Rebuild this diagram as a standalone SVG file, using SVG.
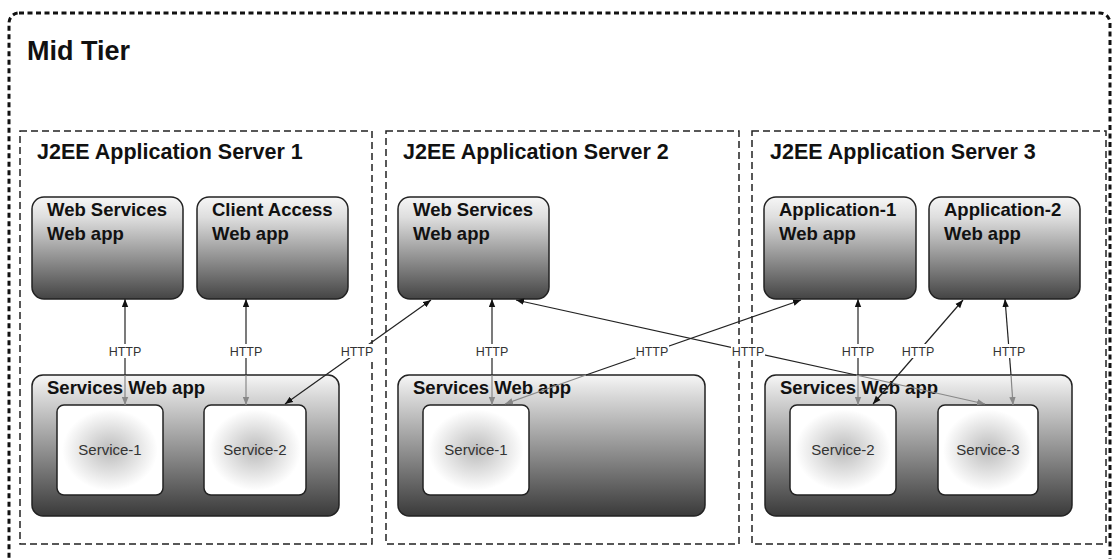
<svg xmlns="http://www.w3.org/2000/svg" width="1112" height="559" viewBox="0 0 1112 559">
<defs>
<linearGradient id="gWeb" x1="0" y1="0" x2="0" y2="1">
<stop offset="0" stop-color="#f6f6f6"/>
<stop offset="0.2" stop-color="#dedede"/>
<stop offset="1" stop-color="#444444"/>
</linearGradient>
<linearGradient id="gSvc" x1="0" y1="0" x2="0" y2="1">
<stop offset="0" stop-color="#f6f6f6"/>
<stop offset="0.15" stop-color="#d8d8d8"/>
<stop offset="1" stop-color="#3a3a3a"/>
</linearGradient>
<radialGradient id="gInner" cx="0.5" cy="0.5" r="0.6">
<stop offset="0" stop-color="#bcbcbc"/>
<stop offset="0.75" stop-color="#ffffff"/>
<stop offset="1" stop-color="#ffffff"/>
</radialGradient>
<marker id="aDark" viewBox="0 0 10 8" refX="10" refY="4" markerWidth="8" markerHeight="7" markerUnits="userSpaceOnUse" orient="auto-start-reverse">
<path d="M0,0 L10,4 L0,8 z" fill="#111"/>
</marker>
<marker id="aGray" viewBox="0 0 10 8" refX="10" refY="4" markerWidth="8" markerHeight="7" markerUnits="userSpaceOnUse" orient="auto-start-reverse">
<path d="M0,0 L10,4 L0,8 z" fill="#888"/>
</marker>
</defs>
<style>
.outer{fill:none;stroke:#111;stroke-width:3;stroke-dasharray:5 3.5}
.server{fill:none;stroke:#222;stroke-width:1.5;stroke-dasharray:7 4}
.title{font-family:"Liberation Sans",Arial,sans-serif;font-weight:bold;fill:#111}
.web{fill:url(#gWeb);stroke:#222;stroke-width:1.5}
.svc{fill:url(#gSvc);stroke:#222;stroke-width:1.5}
.inner{fill:url(#gInner);stroke:#222;stroke-width:1.5}
.bt{font-family:"Liberation Sans",Arial,sans-serif;font-weight:bold;font-size:18.5px;fill:#111}
.st{font-family:"Liberation Sans",Arial,sans-serif;font-size:15px;fill:#333;text-anchor:middle}
.dk{fill:none;stroke:#222;stroke-width:1.2}
.gy{fill:none;stroke:#888;stroke-width:1.2}
.lbl{font-family:"Liberation Sans",Arial,sans-serif;font-size:12.5px;fill:#333;text-anchor:middle}
.lb{fill:#fff}
</style>
<rect width="1112" height="559" fill="#fff"/>

<g id="mid-tier">
<rect class="outer" x="9" y="13" width="1101" height="560" rx="10"/>
<text class="title" x="27" y="60" font-size="27">Mid Tier</text>
</g>

<g id="server1">
<rect class="server" x="20" y="131" width="352" height="413"/>
<text class="title" x="37" y="159" font-size="21.5">J2EE Application Server 1</text>
</g>
<g id="server2">
<rect class="server" x="386" y="131" width="353" height="413"/>
<text class="title" x="403" y="159" font-size="21.5">J2EE Application Server 2</text>
</g>
<g id="server3">
<rect class="server" x="752" y="131" width="354" height="413"/>
<text class="title" x="770" y="159" font-size="21.5">J2EE Application Server 3</text>
</g>

<g id="s1-webservices">
<rect class="web" x="32" y="197" width="151" height="102" rx="12"/>
<text class="bt" x="47" y="216">Web Services</text>
<text class="bt" x="47" y="240">Web app</text>
</g>
<g id="s1-clientaccess">
<rect class="web" x="197" y="197" width="151" height="102" rx="12"/>
<text class="bt" x="212" y="216">Client Access</text>
<text class="bt" x="212" y="240">Web app</text>
</g>
<g id="s2-webservices">
<rect class="web" x="398" y="197" width="151" height="102" rx="12"/>
<text class="bt" x="413" y="216">Web Services</text>
<text class="bt" x="413" y="240">Web app</text>
</g>
<g id="s3-app1">
<rect class="web" x="764" y="197" width="152" height="102" rx="12"/>
<text class="bt" x="779" y="216">Application-1</text>
<text class="bt" x="779" y="240">Web app</text>
</g>
<g id="s3-app2">
<rect class="web" x="929" y="197" width="151" height="102" rx="12"/>
<text class="bt" x="944" y="216">Application-2</text>
<text class="bt" x="944" y="240">Web app</text>
</g>

<g id="s1-services">
<rect class="svc" x="32" y="375" width="307" height="141" rx="11"/>
<text class="bt" x="47" y="394">Services Web app</text>
</g>
<g id="s1-service1">
<rect class="inner" x="57" y="405" width="106" height="90" rx="7"/>
<text class="st" x="110" y="455">Service-1</text>
</g>
<g id="s1-service2">
<rect class="inner" x="204" y="405" width="102" height="90" rx="7"/>
<text class="st" x="255" y="455">Service-2</text>
</g>

<g id="s2-services">
<rect class="svc" x="398" y="375" width="307" height="141" rx="11"/>
<text class="bt" x="413" y="394">Services Web app</text>
</g>
<g id="s2-service1">
<rect class="inner" x="423" y="405" width="106" height="90" rx="7"/>
<text class="st" x="476" y="455">Service-1</text>
</g>

<g id="s3-services">
<rect class="svc" x="765" y="375" width="307" height="141" rx="11"/>
<text class="bt" x="780" y="394">Services Web app</text>
</g>
<g id="s3-service2">
<rect class="inner" x="790" y="405" width="106" height="90" rx="7"/>
<text class="st" x="843" y="455">Service-2</text>
</g>
<g id="s3-service3">
<rect class="inner" x="938" y="405" width="100" height="90" rx="7"/>
<text class="st" x="988" y="455">Service-3</text>
</g>

<g id="connectors">
<path class="dk" d="M125,375 L125,299" marker-end="url(#aDark)"/>
<path class="gy" d="M125,375 L125,405" marker-end="url(#aGray)"/>
<path class="dk" d="M246,375 L246,299" marker-end="url(#aDark)"/>
<path class="gy" d="M246,375 L246,405" marker-end="url(#aGray)"/>
<path class="dk" d="M285,404 L431,300" marker-start="url(#aDark)" marker-end="url(#aDark)"/>
<path class="dk" d="M492,375 L492,299" marker-end="url(#aDark)"/>
<path class="gy" d="M492,375 L492,405" marker-end="url(#aGray)"/>
<path class="dk" d="M856,375 L516,300" marker-end="url(#aDark)"/>
<path class="gy" d="M856,375 L985,404" marker-end="url(#aGray)"/>
<path class="dk" d="M586,375 L801,300" marker-end="url(#aDark)"/>
<path class="gy" d="M586,375 L505,404" marker-end="url(#aGray)"/>
<path class="dk" d="M858,375 L858,299" marker-end="url(#aDark)"/>
<path class="gy" d="M858,375 L858,405" marker-end="url(#aGray)"/>
<path class="dk" d="M873,404 L963,300" marker-start="url(#aDark)" marker-end="url(#aDark)"/>
<path class="dk" d="M1011,375 L1005,299" marker-end="url(#aDark)"/>
<path class="gy" d="M1011,375 L1013,405" marker-end="url(#aGray)"/>

<rect class="lb" x="108" y="344" width="34" height="14"/>
<text class="lbl" x="125" y="356">HTTP</text>
<rect class="lb" x="229" y="344" width="34" height="14"/>
<text class="lbl" x="246" y="356">HTTP</text>
<rect class="lb" x="340" y="344" width="34" height="14"/>
<text class="lbl" x="357" y="356">HTTP</text>
<rect class="lb" x="475" y="344" width="34" height="14"/>
<text class="lbl" x="492" y="356">HTTP</text>
<rect class="lb" x="635" y="344" width="34" height="14"/>
<text class="lbl" x="652" y="356">HTTP</text>
<rect class="lb" x="731" y="344" width="34" height="14"/>
<text class="lbl" x="748" y="356">HTTP</text>
<rect class="lb" x="841" y="344" width="34" height="14"/>
<text class="lbl" x="858" y="356">HTTP</text>
<rect class="lb" x="901" y="344" width="34" height="14"/>
<text class="lbl" x="918" y="356">HTTP</text>
<rect class="lb" x="992" y="344" width="34" height="14"/>
<text class="lbl" x="1009" y="356">HTTP</text>
</g>
</svg>
